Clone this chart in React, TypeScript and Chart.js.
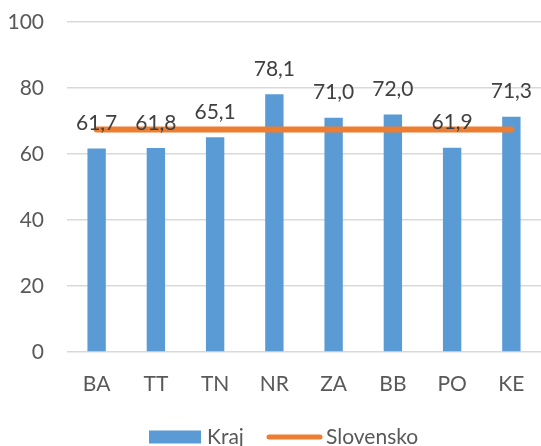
import React, { useEffect, useRef } from "react";
import { Chart, registerables } from "chart.js";

Chart.register(...registerables);

const categories = ["BA", "TT", "TN", "NR", "ZA", "BB", "PO", "KE"];
const krajValues = [61.7, 61.8, 65.1, 78.1, 71.0, 72.0, 61.9, 71.3];
const slovenskoValue = 67.4;
const slovenskoValues = categories.map(() => slovenskoValue);
const yTicks = [0, 20, 40, 60, 80, 100];
const seriesNames = ["Kraj", "Slovensko"];

const BLUE = "#5B9BD5";
const ORANGE = "#ED7D31";
const FONT = "Lato, 'Open Sans', sans-serif";

const fmt = (v: number) => v.toFixed(1).replace(".", ",");

const labelsPlugin = {
  id: "barLabels",
  afterDraw(chart: any) {
    const ctx = chart.ctx;
    const meta = chart.getDatasetMeta(0);
    ctx.save();
    ctx.font = `21px ${FONT}`;
    ctx.fillStyle = "#404040";
    ctx.textAlign = "center";
    ctx.textBaseline = "middle";
    meta.data.forEach((el: any, i: number) => {
      ctx.fillText(fmt(krajValues[i]), el.x, el.y - 25);
    });
    // legend
    const cy = 437;
    ctx.fillStyle = BLUE;
    ctx.fillRect(149, cy - 6.5, 52, 13);
    ctx.fillStyle = "#595959";
    ctx.textAlign = "left";
    ctx.fillText(seriesNames[0], 207, cy);
    ctx.strokeStyle = ORANGE;
    ctx.lineWidth = 5;
    ctx.lineCap = "round";
    ctx.beginPath();
    ctx.moveTo(269, cy);
    ctx.lineTo(320, cy);
    ctx.stroke();
    ctx.fillText(seriesNames[1], 326, cy);
    ctx.restore();
  },
};

export default function App() {
  const ref = useRef<HTMLCanvasElement>(null);
  useEffect(() => {
    document.body.style.margin = "0";
    const chart = new Chart(ref.current as HTMLCanvasElement, {
      type: "bar",
      data: {
        labels: categories,
        datasets: [
          {
            type: "bar",
            label: seriesNames[0],
            data: krajValues,
            backgroundColor: BLUE,
            barPercentage: 0.31,
            categoryPercentage: 1,
            order: 1,
          },
          {
            type: "line",
            label: seriesNames[1],
            data: slovenskoValues,
            borderColor: ORANGE,
            borderWidth: 6,
            borderCapStyle: "round",
            pointRadius: 0,
            fill: false,
            order: 0,
          } as any,
        ],
      },
      options: {
        animation: false,
        responsive: true,
        maintainAspectRatio: false,
        layout: { padding: { top: 22, left: 0, right: 0, bottom: 48 } },
        plugins: {
          legend: { display: false },
          tooltip: { enabled: false },
        },
        scales: {
          x: {
            offset: true,
            grid: { display: false, drawTicks: false },
            border: { display: false },
            afterFit: (scale: any) => {
              scale.height = 46;
              scale.paddingLeft = 0;
              scale.paddingRight = 0;
            },
            ticks: {
              color: "#595959",
              font: { family: FONT, size: 21 },
              padding: 20,
            },
          },
          y: {
            min: 0,
            max: 100,
            afterBuildTicks: (scale: any) => {
              scale.ticks = yTicks.map((v) => ({ value: v }));
            },
            afterFit: (scale: any) => {
              scale.width = 67;
              scale.paddingTop = 0;
              scale.paddingBottom = 0;
            },
            grid: { color: "#D9D9D9", lineWidth: 1.5, drawTicks: false },
            border: { display: false },
            ticks: {
              color: "#595959",
              font: { family: FONT, size: 21 },
              padding: 23,
            },
          },
        },
      },
      plugins: [labelsPlugin],
    });
    return () => chart.destroy();
  }, []);
  return (
    <div style={{ width: 541, height: 446, position: "relative" }}>
      <canvas ref={ref} />
    </div>
  );
}
